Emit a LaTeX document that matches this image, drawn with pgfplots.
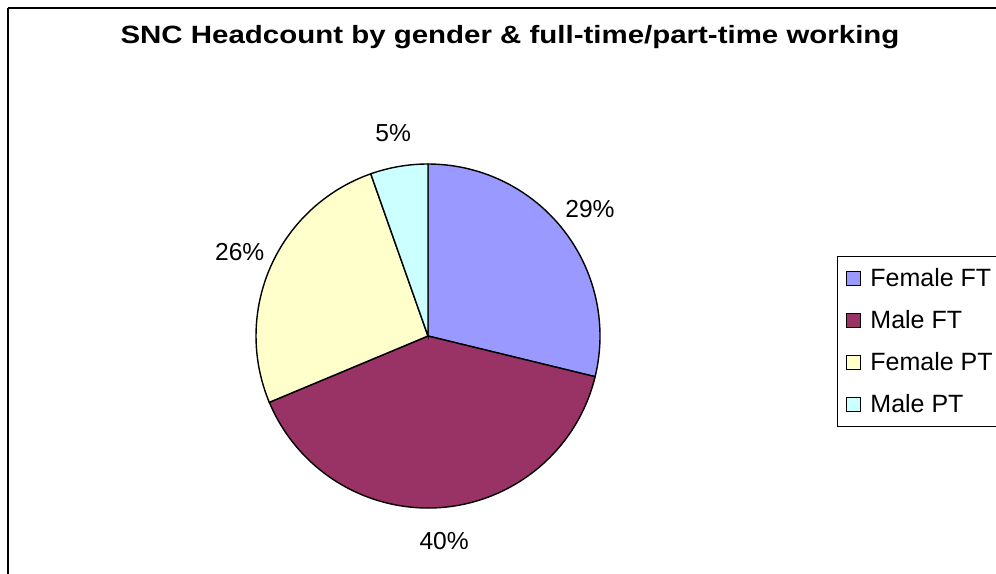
\documentclass[border=0pt]{standalone}
\usepackage{fontspec}
\setmainfont{Liberation Sans}
\usepackage{graphicx}
\usepackage{pgfplots}
\pgfplotsset{compat=1.18}
\usetikzlibrary{calc}
\definecolor{cFFT}{HTML}{9999FF}
\definecolor{cMFT}{HTML}{993366}
\definecolor{cFPT}{HTML}{FFFFCC}
\definecolor{cMPT}{HTML}{CCFFFF}
\newcommand{\lblfont}{\fontsize{24.6}{28}\selectfont}
\begin{document}
\begin{tikzpicture}
\useasboundingbox (0,0) rectangle (996pt,573pt);
\clip (0,0) rectangle (996pt,573pt);
\begin{axis}[
  at={(0,0)}, anchor=south west,
  width=996pt, height=573pt, scale only axis,
  xmin=0, xmax=996, ymin=0, ymax=573,
  hide axis, clip=false,
  legend style={at={(0.8404,0.5532)}, anchor=north west, draw=black, line width=0.8pt,
    font=\fontsize{25}{28}\selectfont, inner xsep=4pt, inner ysep=10pt, row sep=18.5pt},
  legend cell align=left,
  legend image code/.code={\path[draw=none, fill=none] (0pt,0pt) -- (27pt,0pt);
    \draw[#1, line width=1.1pt] (5pt,-7pt) rectangle (19pt,7pt);},
]
% chart frame
\draw[line width=1.4pt] (axis cs:8,565) -- (axis cs:1200,565);
\draw[line width=1.4pt] (axis cs:8,565) -- (axis cs:8,-200);
% title
\node[anchor=base, font=\fontsize{25}{28}\selectfont\bfseries] at (axis cs:510,529)
  {\scalebox{1.178}[1]{SNC Headcount by gender \& full-time/part-time working}};
% pie: share (%), colour, label
\def\a{90}
\foreach \v/\c/\lab in {28.8/cFFT/29\%, 39.9/cMFT/40\%, 25.9/cFPT/26\%, 5.4/cMPT/5\%}{
  \pgfmathsetmacro\b{\a-3.6*\v}
  \pgfmathsetmacro\m{(\a+\b)/2}
  \edef\temp{\noexpand\filldraw[fill=\c, draw=black, line width=1.4pt]
    (axis cs:428,237) -- ++(\a:172pt) arc[start angle=\a, end angle=\b, radius=172pt] -- cycle;
    \noexpand\node[anchor=center, inner sep=0pt, font=\noexpand\lblfont]
    at ($(axis cs:428,237)+(\m:206pt)$) {\lab};}
  \temp
  \global\let\a\b
}
\addlegendimage{fill=cFFT, draw=black}
\addlegendentry{Female FT}
\addlegendimage{fill=cMFT, draw=black}
\addlegendentry{Male FT}
\addlegendimage{fill=cFPT, draw=black}
\addlegendentry{Female PT}
\addlegendimage{fill=cMPT, draw=black}
\addlegendentry{Male PT}
\end{axis}
\end{tikzpicture}
\end{document}
